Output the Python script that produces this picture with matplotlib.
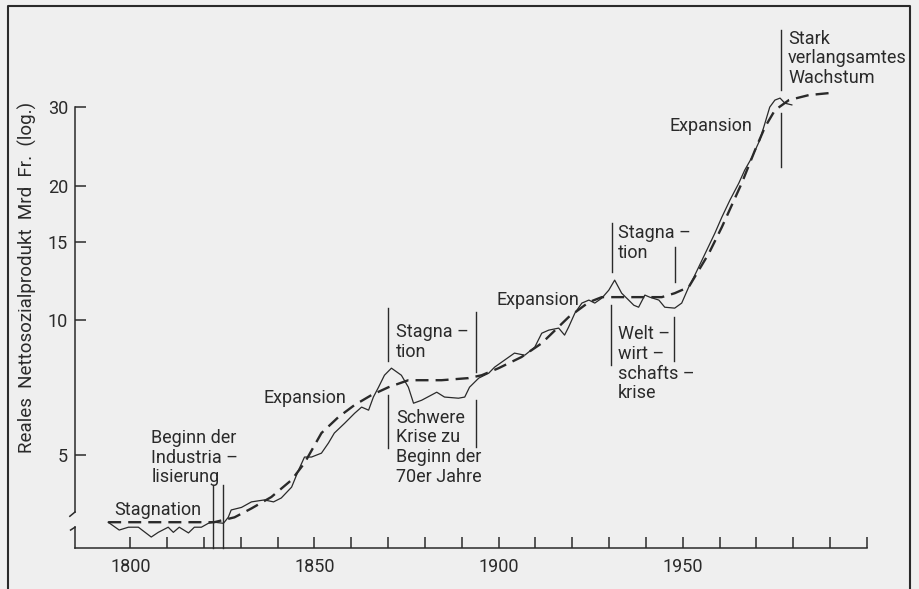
import numpy as np
import matplotlib
matplotlib.use("Agg")
import matplotlib.pyplot as plt
from matplotlib.lines import Line2D

# --- Daten ---
years_actual = [1794.0, 1797.0, 1799.5, 1802.2, 1805.7, 1807.6, 1810.3, 1811.7, 1813.3,
                1815.8, 1817.4, 1819.3, 1821.2, 1822.8, 1825.3, 1826.6, 1827.4, 1830.2,
                1832.9, 1836.4, 1838.9, 1841.0, 1843.8, 1845.7, 1847.3, 1849.2, 1851.9,
                1853.8, 1855.4, 1858.2, 1860.9, 1862.8, 1864.7, 1866.0, 1867.4, 1869.0,
                1870.9, 1873.6, 1875.5, 1876.9, 1879.1, 1883.2, 1885.3, 1889.1, 1890.8,
                1892.1, 1894.6, 1897.3, 1898.9, 1901.6, 1904.3, 1907.1, 1909.8, 1911.7,
                1913.6, 1916.3, 1917.9, 1919.0, 1920.7, 1922.6, 1924.5, 1926.1, 1928.0,
                1929.9, 1931.5, 1933.4, 1935.3, 1936.7, 1938.0, 1939.7, 1941.0, 1943.5,
                1945.1, 1947.8, 1949.7, 1951.6, 1953.0, 1955.2, 1958.7, 1960.6, 1962.8,
                1965.2, 1966.8, 1968.8, 1970.9, 1972.3, 1973.6, 1975.0, 1976.4, 1977.7,
                1979.6]
nsp_actual = [3.54, 3.40, 3.45, 3.45, 3.28, 3.36, 3.45, 3.36, 3.45,
              3.35, 3.45, 3.45, 3.52, 3.54, 3.52, 3.63, 3.77, 3.82,
              3.93, 3.97, 3.93, 4.01, 4.24, 4.63, 4.95, 4.95, 5.05,
              5.32, 5.60, 5.89, 6.20, 6.40, 6.30, 6.74, 7.09, 7.54,
              7.82, 7.54, 7.09, 6.53, 6.63, 6.91, 6.74, 6.70, 6.74,
              7.09, 7.43, 7.62, 7.86, 8.15, 8.45, 8.36, 8.71, 9.36,
              9.51, 9.61, 9.27, 9.66, 10.38, 10.93, 11.10, 10.93, 11.21,
              11.68, 12.30, 11.50, 11.10, 10.81, 10.70, 11.39, 11.27, 11.10,
              10.70, 10.65, 10.93, 11.87, 12.49, 13.63, 15.66, 17.01, 18.57,
              20.26, 21.66, 23.16, 25.28, 27.59, 29.96, 31.06, 31.38, 30.57,
              30.3]

years_trend = [1794.0, 1822.8, 1828.3, 1832.9, 1838.3, 1843.8, 1847.3, 1851.9, 1856.5,
               1860.9, 1865.5, 1870.1, 1875.5, 1884.5, 1891.8, 1895.4, 1900.0, 1906.2,
               1911.7, 1919.0, 1924.5, 1928.0, 1944.3, 1947.8, 1951.6, 1957.1, 1960.6,
               1966.0, 1969.6, 1972.3, 1975.0, 1978.8, 1984.2, 1989.7]
nsp_trend = [3.54, 3.54, 3.63, 3.80, 4.03, 4.40, 4.80, 5.60, 6.08,
             6.47, 6.81, 7.09, 7.35, 7.35, 7.43, 7.54, 7.82, 8.28,
             8.89, 10.17, 10.98, 11.27, 11.27, 11.50, 11.87, 14.13, 16.16,
             20.26, 24.01, 27.03, 29.49, 31.06, 31.87, 32.20]

y_ticks = [5, 10, 15, 20, 30]
x_major = [1800, 1850, 1900, 1950]
x_minor = list(range(1800, 2001, 10))

INK = "#2a2a2a"
BG = "#efefef"
FS = 13

plt.rcParams["font.family"] = ["Roboto", "DejaVu Sans"]
plt.rcParams["font.size"] = FS

fig = plt.figure(figsize=(9.19, 5.89), dpi=100, facecolor=BG)
W, H = 919, 589
ax = fig.add_axes([75 / W, 1 - 548 / H, 792 / W, (548 - 20) / H])
ax.set_facecolor(BG)
ax.set_yscale("log")
ax.set_xlim(1785, 2000)
ax.set_ylim(3.10, 46.9)

ax.plot(years_actual, nsp_actual, color=INK, lw=0.9)
ax.plot(years_trend, nsp_trend, color=INK, lw=1.7, linestyle=(0, (5.5, 3.0)))

# Achsen
for s in ["top", "right"]:
    ax.spines[s].set_visible(False)
ax.spines["left"].set_bounds(3.73, 30)
ax.spines["bottom"].set_bounds(1785, 2000)
for s in ["left", "bottom"]:
    ax.spines[s].set_color(INK)
    ax.spines[s].set_linewidth(1.1)

# Achsenbruch unten links
ax.plot([1785, 1785], [3.10, 3.45], color=INK, lw=1.1, clip_on=False)
ax.plot([1785, 1783.6], [3.73, 3.65], color=INK, lw=1.1, clip_on=False)
ax.plot([1783.8, 1785], [3.40, 3.45], color=INK, lw=1.1, clip_on=False)

ax.set_yticks(y_ticks, labels=[str(v) for v in y_ticks])
ax.yaxis.set_minor_locator(plt.NullLocator())
ax.set_xticks(x_minor, labels=[str(v) if v in x_major else "" for v in x_minor])
ax.tick_params(axis="both", direction="in", length=8, width=1.1, color=INK,
               labelcolor=INK, labelsize=FS)
ax.tick_params(axis="y", pad=5)
ax.tick_params(axis="x", pad=7)

fig.text(27 / W, 1 - 277 / H, "Reales  Nettosozialprodukt  Mrd  Fr.  (log.)",
         rotation=90, ha="center", va="center", color=INK, fontsize=13.5)

# Beschriftungen
def vline(x, y0, y1):
    ax.plot([x, x], [y0, y1], color=INK, lw=1.0, clip_on=False)

def label(x, y, s, va="top"):
    ax.text(x, y, s, ha="left", va=va, color=INK, fontsize=FS, linespacing=1.12)

label(1795.7, 3.77, "Stagnation", va="center")
label(1805.7, 5.72, "Beginn der\nIndustria –\nlisierung")
vline(1822.5, 3.10, 4.28)
vline(1825.2, 3.10, 4.28)

label(1836.1, 6.70, "Expansion", va="center")
vline(1870.0, 8.10, 10.65)
vline(1870.0, 5.18, 6.81)
vline(1893.9, 7.66, 10.43)
vline(1893.9, 5.21, 6.63)
label(1872.2, 9.85, "Stagna –\ntion")
label(1872.2, 6.35, "Schwere\nKrise zu\nBeginn der\n70er Jahre")

label(1899.3, 11.10, "Expansion", va="center")
vline(1930.8, 12.80, 16.47)
vline(1947.9, 12.19, 14.58)
label(1932.4, 16.4, "Stagna –\ntion")
vline(1930.5, 7.94, 10.81)
vline(1947.6, 8.10, 10.17)
label(1932.4, 9.75, "Welt –\nwirt –\nschafts –\nkrise")

label(1946.3, 27.2, "Expansion", va="center")
vline(1976.7, 32.7, 44.5)
vline(1976.7, 22.0, 29.0)
label(1978.6, 44.6, "Stark\nverlangsamtes\nWachstum")

# Rahmen
x0, x1, yt = 8 / W, 910 / W, 1 - 6 / H
fig.add_artist(Line2D([x0, x0, x1, x1], [-0.1, yt, yt, -0.1],
                      transform=fig.transFigure, color=INK, lw=1.5))

fig.savefig("out.png", dpi=100, facecolor=BG)
